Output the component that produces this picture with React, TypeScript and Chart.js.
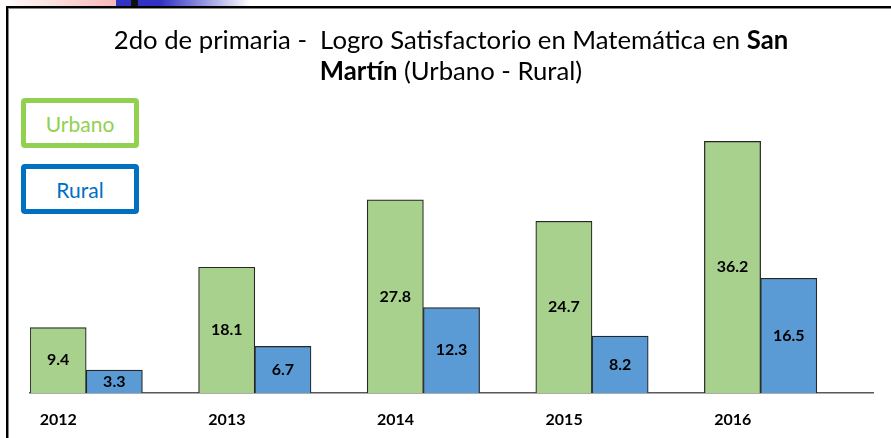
import React, { useEffect, useRef } from "react";
import { Chart, registerables } from "chart.js";

Chart.register(...registerables);

const years = ["2012", "2013", "2014", "2015", "2016"];
const urbano = [9.4, 18.1, 27.8, 24.7, 36.2];
const rural = [3.3, 6.7, 12.3, 8.2, 16.5];
const seriesNames = ["Urbano", "Rural"];
const yMax = 40;

const GREEN_FILL = "#a9d18e";
const BLUE_FILL = "#5b9bd5";
const GREEN_LEG = "#92d050";
const BLUE_LEG = "#0070c0";
const FONT = "Lato, 'Open Sans', sans-serif";

const valueLabels = {
  id: "valueLabels",
  afterDatasetsDraw(chart: any) {
    const ctx = chart.ctx;
    ctx.save();
    ctx.font = `bold 16px ${FONT}`;
    ctx.fillStyle = "#000";
    ctx.textAlign = "center";
    ctx.textBaseline = "middle";
    chart.data.datasets.forEach((ds: any, di: number) => {
      if (!ds.showValues) return;
      const meta = chart.getDatasetMeta(di);
      meta.data.forEach((el: any, i: number) => {
        const v = ds.data[i];
        if (v == null) return;
        const y = (el.y + el.base) / 2;
        ctx.fillText(String(v), el.x, y);
      });
    });
    ctx.restore();
  },
};

export default function App() {
  const ref = useRef<HTMLCanvasElement>(null);
  useEffect(() => {
    if (!ref.current) return;
    const chart = new Chart(ref.current, {
      type: "bar",
      data: {
        labels: years,
        datasets: [
          {
            label: seriesNames[0],
            data: urbano,
            backgroundColor: GREEN_FILL,
            borderColor: "#262626",
            borderWidth: 1.2,
            showValues: true,
          } as any,
          {
            label: seriesNames[1],
            data: rural,
            backgroundColor: BLUE_FILL,
            borderColor: "#262626",
            borderWidth: 1.2,
            showValues: true,
          } as any,
          {
            label: "",
            data: years.map(() => null),
            backgroundColor: "transparent",
          } as any,
        ],
      },
      options: {
        animation: false,
        responsive: false,
        maintainAspectRatio: false,
        layout: { padding: { left: 30, right: 18, top: 115, bottom: 0 } },
        datasets: { bar: { barPercentage: 1, categoryPercentage: 1 } },
        plugins: {
          legend: { display: false },
          title: { display: false },
          tooltip: { enabled: false },
        },
        scales: {
          x: {
            grid: { display: false },
            border: { display: true, color: "#595959", width: 1.5 },
            ticks: {
              color: "#000",
              font: { family: FONT, size: 16, weight: "bold" },
              labelOffset: -56,
              padding: 9,
              maxRotation: 0,
            },
            afterFit: (scale: any) => {
              scale.height = 45;
            },
          },
          y: {
            display: false,
            min: 0,
            max: yMax,
          },
        },
      },
      plugins: [valueLabels],
    });
    return () => chart.destroy();
  }, []);

  const legendBox = (top: number, color: string, text: string) => (
    <div
      style={{
        position: "absolute",
        left: 21,
        top,
        width: 118,
        height: 50,
        boxSizing: "border-box",
        border: `5px solid ${color}`,
        borderRadius: 4,
        color,
        fontFamily: FONT,
        fontSize: 21,
        display: "flex",
        alignItems: "center",
        justifyContent: "center",
        background: "#fff",
      }}
    >
      {text}
    </div>
  );

  return (
    <div
      style={{
        position: "absolute",
        left: 0,
        top: 0,
        width: 891,
        height: 438,
        overflow: "hidden",
        background: "#fff",
      }}
    >
      {/* top decoration strip */}
      <div
        style={{
          position: "absolute",
          left: 0,
          top: 0,
          width: 116,
          height: 6,
          background: "linear-gradient(to right, #ffffff, #f7b9b9)",
        }}
      />
      <div style={{ position: "absolute", left: 116, top: 0, width: 15, height: 6, background: "#3131c4" }} />
      <div style={{ position: "absolute", left: 131, top: 0, width: 7, height: 6, background: "#111" }} />
      <div
        style={{
          position: "absolute",
          left: 138,
          top: 0,
          width: 112,
          height: 6,
          background: "linear-gradient(to right, #3131c4 0%, #3131c4 20%, #ffffff 100%)",
        }}
      />
      {/* frame */}
      <div
        style={{
          position: "absolute",
          left: 6,
          top: 6,
          width: 900,
          height: 450,
          borderLeft: "2px solid #000",
          borderTop: "2px solid #000",
          boxShadow: "inset 1px 1px 0 #888",
        }}
      />
      <canvas ref={ref} width={891} height={438} style={{ position: "absolute", left: 0, top: 0, width: 891, height: 438 }} />
      {/* title */}
      <div
        style={{
          position: "absolute",
          left: 0,
          top: 24,
          width: 902,
          textAlign: "center",
          fontFamily: FONT,
          fontSize: 25.7,
          lineHeight: "31px",
          color: "#000",
          whiteSpace: "pre",
        }}
      >
        {"2do de primaria -  Logro Satisfactorio en Matemática en "}
        <b>San</b>
        <br />
        <b>Martín</b>
        {" (Urbano - Rural)"}
      </div>
      {legendBox(98, GREEN_LEG, seriesNames[0])}
      {legendBox(164, BLUE_LEG, seriesNames[1])}
    </div>
  );
}
